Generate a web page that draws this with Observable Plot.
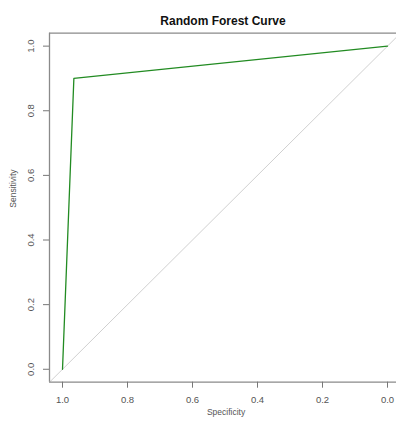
<!DOCTYPE html>
<html>
<head>
<meta charset="utf-8">
<script src="https://cdn.jsdelivr.net/npm/d3@7"></script>
<script src="https://cdn.jsdelivr.net/npm/@observablehq/plot@0.6"></script>
<style>
  html, body { margin: 0; padding: 0; background: #fff; }
  svg { display: block; }
</style>
</head>
<body>
<div id="chart"></div>
<script>
// ROC curve points (specificity, sensitivity)
const specificity = [1.0, 0.965, 0.0];
const sensitivity = [0.0, 0.90, 1.0];
const xTicks = [1.0, 0.8, 0.6, 0.4, 0.2, 0.0];
const yTicks = [0.0, 0.2, 0.4, 0.6, 0.8, 1.0];
const title = "Random Forest Curve";
const xLabel = "Specificity";
const yLabel = "Sensitivity";

const curve = specificity.map((s, i) => ({spec: s, sens: sensitivity[i]}));
const lo = -0.04, hi = 1.04;
const diag = [{spec: hi, sens: lo}, {spec: lo, sens: hi}];
const fmt = d3.format(".1f");
const font = "Liberation Sans, Arial, sans-serif";

const plot = Plot.plot({
  width: 396,
  height: 424,
  marginLeft: 49,
  marginRight: 0,
  marginTop: 32.7,
  marginBottom: 42.3,
  style: {fontFamily: font, background: "#fff"},
  x: {domain: [hi, lo], range: [49, 400]},
  y: {domain: [lo, hi]},
  marks: [
    // diagonal reference
    Plot.line(diag, {x: "spec", y: "sens", stroke: "#d0d0d0", strokeWidth: 1, clip: true}),
    // box
    Plot.ruleY([lo, hi], {x1: hi, x2: lo, stroke: "#8a8a8a", strokeWidth: 1.3}),
    Plot.ruleX([hi, lo], {y1: lo, y2: hi, stroke: "#8a8a8a", strokeWidth: 1.3}),
    // curve
    Plot.line(curve, {x: "spec", y: "sens", stroke: "#228b22", strokeWidth: 1.3}),
    // axes
    Plot.axisX({ticks: xTicks, tickSize: 6, tickPadding: 8, tickFormat: fmt, fontSize: 9.5, color: "#555", stroke: "#777", label: null}),
    Plot.axisY({ticks: yTicks, tickSize: 6, tickFormat: () => null, stroke: "#777", label: null}),
    Plot.text(yTicks, {x: hi, y: d => d, text: d => fmt(d), rotate: -90, dx: -19, fontSize: 9.5, fill: "#555", textAnchor: "middle"}),
    // labels
    Plot.text([xLabel], {frameAnchor: "bottom", dy: 30, dx: 3, lineAnchor: "middle", fontSize: 8.5, fill: "#555"}),
    Plot.text([yLabel], {frameAnchor: "left", dx: -36, rotate: -90, lineAnchor: "middle", fontSize: 8.5, fill: "#555"}),
    Plot.text([title], {frameAnchor: "top", dy: -8, lineAnchor: "bottom", fontSize: 12, fontWeight: "bold", fill: "#111"})
  ]
});
document.getElementById("chart").appendChild(plot);
</script>
</body>
</html>
